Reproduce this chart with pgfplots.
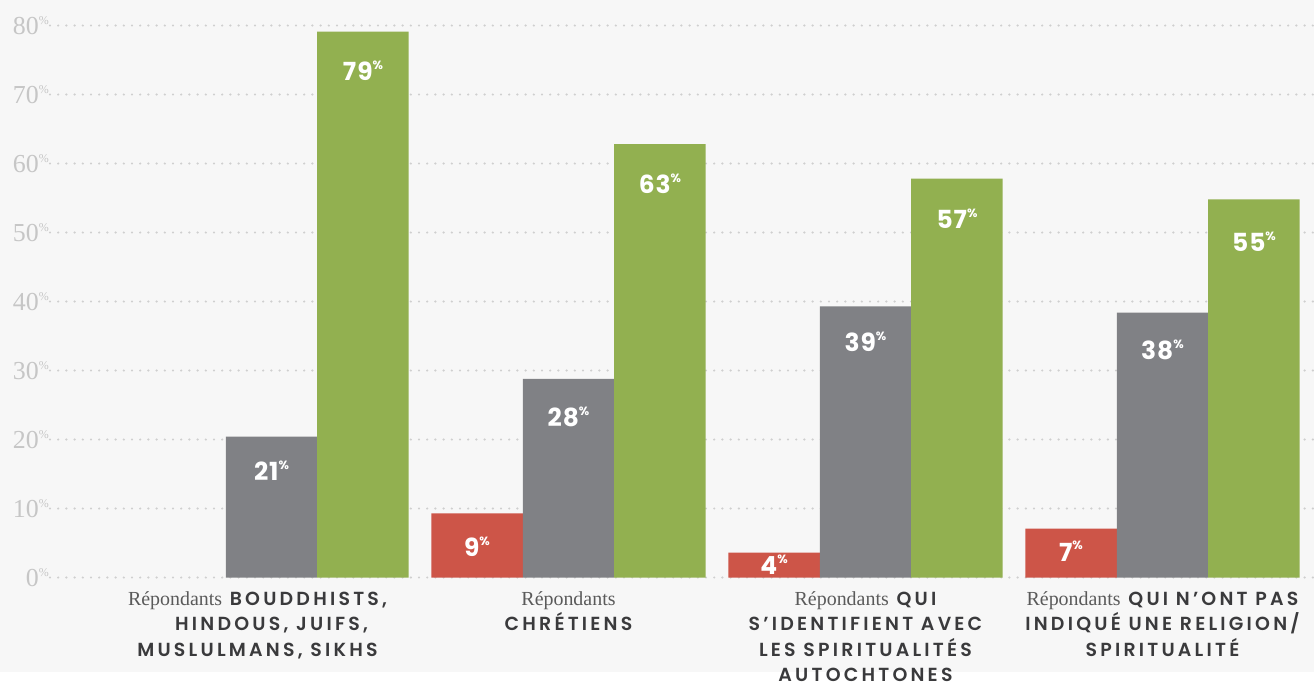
\documentclass[border=0pt]{standalone}
\usepackage{fontspec}
\usepackage{pgfplots}
\pgfplotsset{compat=1.18}
\setmainfont{Liberation Serif}
\newfontfamily\capsfont[LetterSpace=17]{Poppins SemiBold}
\newfontfamily\numfont[LetterSpace=4]{Poppins Bold}
\definecolor{bgc}{HTML}{F7F7F7}
\definecolor{gridc}{HTML}{CFCFCF}
\definecolor{tickc}{HTML}{C6C6C6}
\definecolor{redc}{HTML}{CD5548}
\definecolor{grayc}{HTML}{808185}
\definecolor{greenc}{HTML}{92B050}
\definecolor{catc}{HTML}{3A3A3C}
\definecolor{repc}{HTML}{5A5A5A}
\newcommand{\pct}[1]{\raisebox{0.8ex}{\fontsize{#1}{#1}\selectfont\%}}
\newcommand{\rep}{{\rmfamily\fontsize{20}{25}\selectfont\color{repc}Répondants}}
\begin{document}
\begin{tikzpicture}
\useasboundingbox (-50bp,-106.5bp) rectangle (1264bp,577.5bp);
\fill[bgc] (-50bp,-94bp) rectangle (1264bp,577.5bp);
\begin{axis}[
  scale only axis,
  width=1264bp, height=577.5bp,
  xmin=-0.7458, xmax=3.5101,
  ymin=0, ymax=83.7,
  axis line style={draw=none},
  major tick length=0pt,
  ytick={0,10,...,80},
  /pgf/number format/assume math mode=true,
  yticklabel={\pgfmathprintnumber{\tick}\pct{12}},
  yticklabel style={font=\rmfamily\fontsize{26}{26}\selectfont, text=tickc, anchor=east, inner sep=0pt, xshift=-1bp},
  ymajorgrids,
  major grid style={draw=gridc, line width=2.4bp, dash pattern=on 0bp off 8.2bp, line cap=round},
  xtick={0,1,2,3},
  xticklabels={
    {\rep{} BOUDDHISTS,\hspace*{28bp}\\HINDOUS, JUIFS,\hspace*{28bp}\\MUSLULMANS, SIKHS\hspace*{28bp}},
    {\rep\\CHRÉTIENS},
    {\rep{} QUI\\S’IDENTIFIENT AVEC\\LES SPIRITUALITÉS\\AUTOCHTONES},
    {\rep{} QUI N’ONT PAS\\INDIQUÉ UNE RELIGION/\\SPIRITUALITÉ}},
  xticklabel style={font=\capsfont\fontsize{19}{25.5}\selectfont, text=catc, align=center, anchor=north, inner sep=0pt, yshift=-14bp},
  clip=false,
]
\addplot[ybar, bar width=0.308, bar shift=0pt, fill=redc, draw=none]
  coordinates {(0.692,9.3) (1.692,3.6) (2.692,7.1)};
\addplot[ybar, bar width=0.308, bar shift=0pt, fill=grayc, draw=none]
  coordinates {(0,20.4) (1,28.8) (2,39.3) (3,38.4)};
\addplot[ybar, bar width=0.308, bar shift=0pt, fill=greenc, draw=none]
  coordinates {(0.308,79.1) (1.308,62.8) (2.308,57.8) (3.308,54.8)};
\addplot[draw=none, mark=none, nodes near coords={\pgfplotspointmeta\pct{12}}, point meta=explicit symbolic,
  every node near coord/.style={anchor=center, inner sep=0pt, text=white, font=\numfont\fontsize{25}{25}\selectfont}]
  table[meta=label] {
x y label
0.308 73.5 79
1.308 57.0 63
2.308 52.0 57
3.308 48.7 55
0 15.5 21
1 23.3 28
2 34.2 39
3 33.0 38
0.692 4.5 9
1.692 1.8 4
2.692 3.8 7
};
\end{axis}
\end{tikzpicture}
\end{document}
